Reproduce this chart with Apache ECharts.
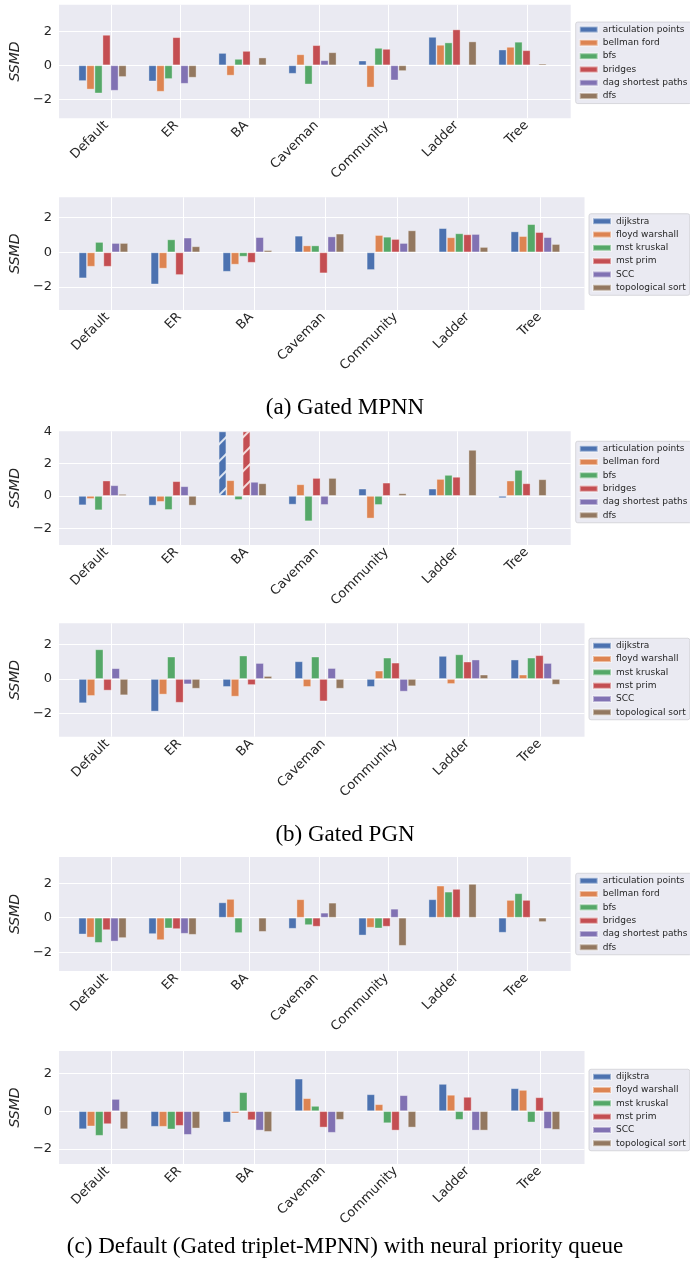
<!DOCTYPE html>
<html><head><meta charset="utf-8">
<script src="https://cdn.jsdelivr.net/npm/echarts@6/dist/echarts.min.js"></script>
<style>html,body{margin:0;padding:0;background:#fff}#c{width:690px;height:1277px}</style>
</head><body><div id="c"></div>
<script>
// ---------- data ----------
const categories = ['Default', 'ER', 'BA', 'Caveman', 'Community', 'Ladder', 'Tree'];
const algosA = ['articulation points', 'bellman ford', 'bfs', 'bridges', 'dag shortest paths', 'dfs'];
const algosB = ['dijkstra', 'floyd warshall', 'mst kruskal', 'mst prim', 'SCC', 'topological sort'];
const captions = ['(a) Gated MPNN', '(b) Gated PGN', '(c) Default (Gated triplet-MPNN) with neural priority queue'];
const yTicks = [-2, 0, 2, 4];

// one row per algorithm, one column per category (SSMD)
const mpnnA = [
  [-0.93, -0.95, 0.73, -0.50, 0.28, 1.68, 0.93],
  [-1.43, -1.56, -0.61, 0.65, -1.31, 1.21, 1.09],
  [-1.66, -0.81, 0.38, -1.13, 1.03, 1.35, 1.39],
  [1.80, 1.66, 0.85, 1.19, 0.97, 2.12, 0.89],
  [-1.50, -1.09, null, 0.30, -0.89, null, null],
  [-0.69, -0.73, 0.46, 0.77, -0.34, 1.41, 0.10]
];
const mpnnB = [
  [-1.50, -1.85, -1.12, 0.96, -1.02, 1.40, 1.21],
  [-0.83, -0.94, -0.71, 0.40, 1.00, 0.87, 0.94],
  [0.60, 0.75, -0.25, 0.40, 0.90, 1.10, 1.63],
  [-0.83, -1.31, -0.60, -1.21, 0.77, 1.04, 1.17],
  [0.54, 0.85, 0.88, 0.92, 0.54, 1.06, 0.88],
  [0.54, 0.35, 0.13, 1.08, 1.27, 0.31, 0.48]
];
const pgnA = [
  [-0.58, -0.60, 4.00, -0.54, 0.45, 0.45, -0.14],
  [-0.19, -0.37, 0.97, 0.72, -1.40, 1.05, 0.95],
  [-0.89, -0.87, -0.25, -1.57, -0.56, 1.30, 1.61],
  [0.95, 0.91, 4.00, 1.11, 0.82, 1.18, 0.78],
  [0.66, 0.60, 0.87, -0.56, null, null, null],
  [0.12, -0.60, 0.78, 1.11, 0.16, 2.85, 1.03]
];
const pgnB = [
  [-1.40, -1.88, -0.46, 1.02, -0.46, 1.33, 1.12],
  [-0.98, -0.90, -1.02, -0.46, 0.48, -0.29, 0.25],
  [1.71, 1.29, 1.35, 1.29, 1.23, 1.42, 1.23],
  [-0.67, -1.37, -0.35, -1.29, 0.94, 1.00, 1.37],
  [0.62, -0.31, 0.92, 0.63, -0.73, 1.12, 0.92],
  [-0.94, -0.56, 0.17, -0.56, -0.42, 0.25, -0.33]
];
const pqA = [
  [-0.97, -0.95, 0.89, -0.64, -1.03, 1.07, -0.87],
  [-1.15, -1.30, 1.09, 1.07, -0.58, 1.86, 1.03],
  [-1.46, -0.62, -0.89, -0.43, -0.62, 1.51, 1.42],
  [-0.72, -0.66, null, -0.52, -0.52, 1.67, 1.03],
  [-1.38, -0.93, null, 0.29, 0.52, null, null],
  [-1.18, -0.99, -0.82, 0.87, -1.63, 1.96, -0.25]
];
const pqB = [
  [-0.96, -0.83, -0.60, 1.73, 0.90, 1.45, 1.22],
  [-0.81, -0.83, -0.12, 0.69, 0.37, 0.87, 1.13],
  [-1.31, -0.97, 1.01, 0.28, -0.64, -0.46, -0.60],
  [-0.69, -0.78, -0.48, -0.87, -1.03, 0.76, 0.74],
  [0.65, -1.26, -1.03, -1.15, 0.85, -1.03, -0.94],
  [-0.96, -0.92, -1.10, -0.46, -0.87, -1.03, -0.99]
];
// bars whose value runs past the top of the axis (drawn hatched): [algorithm, category]
const pgnClipped = [[0, 2], [3, 2]];

// ---------- styling / layout ----------
const colors = ['#4C72B0', '#DD8452', '#55A868', '#C44E52', '#8172B3', '#937860'];
const panels = [
  { vals: mpnnA, names: algosA, top: 4.7,  bottom: 118.3, left: 54.3, right: 570.7, c0: 106.5, c1: 526.5, ymin: -3.13, ymax: 3.58, legLeft: 575.7, legMid: 62.8, clipped: [] },
  { vals: mpnnB, names: algosB, top: 197.3, bottom: 310,  left: 54.8, right: 584.5, c0: 107.5, c1: 539.5, ymin: -3.33, ymax: 3.18, legLeft: 589, legMid: 254.5, clipped: [] },
  { vals: pgnA,  names: algosA, top: 431.3, bottom: 545,  left: 54.3, right: 570.7, c0: 106.5, c1: 526.5, ymin: -3.04, ymax: 4.0,  legLeft: 575.7, legMid: 482, clipped: pgnClipped },
  { vals: pgnB,  names: algosB, top: 623.3, bottom: 736.7, left: 54.8, right: 584.5, c0: 107.5, c1: 539.5, ymin: -3.33, ymax: 3.21, legLeft: 589, legMid: 679, clipped: [] },
  { vals: pqA,   names: algosA, top: 857,  bottom: 971,   left: 54.3, right: 570.7, c0: 106.5, c1: 526.5, ymin: -3.09, ymax: 3.52, legLeft: 575.7, legMid: 914, clipped: [] },
  { vals: pqB,   names: algosB, top: 1051, bottom: 1164,  left: 54.8, right: 584.5, c0: 107.5, c1: 539.5, ymin: -2.81, ymax: 3.2,  legLeft: 589, legMid: 1110, clipped: [] }
];
const captionTops = [395, 822, 1234];

const TXT = '#262626';
const FONT = 'DejaVu Sans';
const fmtTick = v => {
  if (!yTicks.some(t => Math.abs(t - v) < 1e-6)) return '';
  return v < 0 ? '\u2212' + Math.abs(v) : String(v);
};
const hatch = { symbol: 'rect', symbolSize: 1, dashArrayX: [1, 0], dashArrayY: [1.3, 10], rotation: -Math.PI / 4, color: 'rgba(255,255,255,0.8)' };
const whiteLine = { show: true, showMinLine: false, showMaxLine: false, lineStyle: { color: '#ffffff', width: 1 } };

const grid = [], xAxis = [], yAxis = [], series = [], legend = [];
panels.forEach((p, k) => {
  const h = p.bottom - p.top;
  const step = (p.c1 - p.c0) / (categories.length - 1);
  // background grid (plot area)
  grid.push({ show: true, z: 0, left: p.left, top: p.top, width: p.right - p.left, height: h, backgroundColor: '#EAEAF2', borderWidth: 0 });
  // bar grid (spans first to last category centre)
  grid.push({ show: false, left: p.c0, top: p.top, width: p.c1 - p.c0, height: h });
  const ga = 2 * k, gb = 2 * k + 1;
  // background x axis: category index units, so its integer grid lines fall on the category centres
  xAxis.push({
    gridIndex: ga, type: 'value', z: 1,
    min: (p.left - p.c0) / step, max: (p.right - p.c0) / step, minInterval: 1, maxInterval: 1,
    axisLine: { show: false }, axisTick: { show: false }, axisLabel: { show: false },
    splitLine: whiteLine
  });
  yAxis.push({
    gridIndex: ga, type: 'value', min: p.ymin, max: p.ymax, minInterval: 2, maxInterval: 2, z: 1,
    axisLine: { show: false }, axisTick: { show: false },
    splitLine: whiteLine,
    axisLabel: { formatter: fmtTick, color: TXT, fontFamily: FONT, fontSize: 13, margin: 7 },
    name: 'SSMD', nameLocation: 'middle', nameRotate: 90, nameGap: 23,
    nameTextStyle: { fontFamily: FONT, fontStyle: 'italic', fontSize: 14, color: TXT }
  });
  xAxis.push({
    gridIndex: gb, type: 'category', data: categories, boundaryGap: false, z: 1,
    axisLine: { show: false }, axisTick: { show: false },
    splitLine: { show: false },
    axisLabel: { interval: 0, rotate: 45, color: TXT, fontFamily: FONT, fontSize: 13, margin: 5, hideOverlap: false }
  });
  yAxis.push({ gridIndex: gb, type: 'value', min: p.ymin, max: p.ymax, show: false, splitLine: { show: false } });

  p.vals.forEach((row, i) => {
    series.push({
      type: 'bar', name: p.names[i], xAxisIndex: gb, yAxisIndex: gb, z: 10,
      barGap: '0%', barCategoryGap: '20%', clip: false, silent: true,
      itemStyle: { color: colors[i], borderColor: 'rgba(255,255,255,0.45)', borderWidth: 0.8 },
      data: row.map((v, j) => {
        if (v == null) return '-';
        if (p.clipped.some(c => c[0] === i && c[1] === j)) return { value: v, itemStyle: { decal: hatch } };
        return v;
      })
    });
  });
  // empty seventh slot (the groups in the figure are laid out for seven hue levels)
  series.push({ type: 'bar', name: '_slot', xAxisIndex: gb, yAxisIndex: gb, silent: true,
    barGap: '0%', barCategoryGap: '20%', data: categories.map(() => '-') });

  const itemH = 11, gap = 2.3, padV = 2;
  const legH = 6 * itemH + 5 * gap + 2 * padV;
  legend.push({
    orient: 'vertical', left: p.legLeft, top: p.legMid - legH / 2, data: p.names, selectedMode: false,
    icon: 'rect', itemWidth: 18, itemHeight: 6, itemGap: gap, padding: [padV, 4, padV, 3],
    backgroundColor: '#EAEAF2', borderColor: '#cfcfd4', borderWidth: 0.8, borderRadius: 2,
    textStyle: { fontFamily: FONT, fontSize: 9, color: TXT, lineHeight: itemH }
  });
});

const title = captions.map((t, i) => ({
  text: t, left: 'center', top: captionTops[i], padding: 0,
  textStyle: { fontFamily: 'Liberation Serif', fontSize: 23, fontWeight: 'normal', color: '#000', lineHeight: 26 }
}));

const chart = echarts.init(document.getElementById('c'), null, { renderer: 'canvas' });
chart.setOption({
  animation: false, backgroundColor: '#ffffff',
  textStyle: { fontFamily: FONT },
  title, grid, xAxis, yAxis, series, legend
});
</script></body></html>
